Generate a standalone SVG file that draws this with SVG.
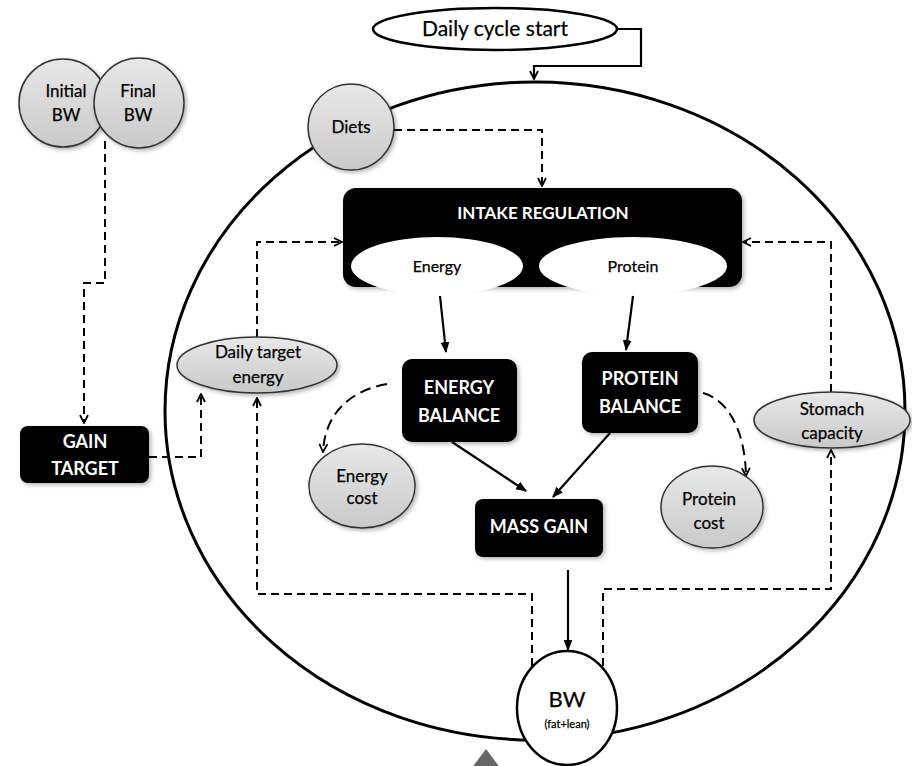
<svg xmlns="http://www.w3.org/2000/svg" width="912" height="766" viewBox="0 0 912 766">
<defs>
<linearGradient id="gray" x1="0" y1="0" x2="0" y2="1">
<stop offset="0" stop-color="#e8e8e8"/>
<stop offset="1" stop-color="#c9c9c9"/>
</linearGradient>
<filter id="sh" x="-20%" y="-20%" width="150%" height="150%">
<feGaussianBlur in="SourceAlpha" stdDeviation="2"/>
<feOffset dx="2" dy="2" result="b"/>
<feComponentTransfer><feFuncA type="linear" slope="0.3"/></feComponentTransfer>
<feMerge><feMergeNode/><feMergeNode in="SourceGraphic"/></feMerge>
</filter>
<marker id="open" viewBox="0 0 10 10" refX="9" refY="5" markerWidth="10" markerHeight="10" markerUnits="userSpaceOnUse" orient="auto">
<path d="M1,1 L9,5 L1,9" fill="none" stroke="#000" stroke-width="1.8"/>
</marker>
<marker id="solid" viewBox="0 0 10 10" refX="9" refY="5" markerWidth="11" markerHeight="11" markerUnits="userSpaceOnUse" orient="auto">
<path d="M0,1 L10,5 L0,9 z" fill="#000"/>
</marker>
<style>
.t{font-family:Lato,"Liberation Sans",sans-serif;fill:#000;text-anchor:middle;stroke:#000;stroke-width:0.25}
.w{font-family:Lato,"Liberation Sans",sans-serif;fill:#fff;font-weight:bold;text-anchor:middle}
.g{fill:url(#gray);stroke:#333;stroke-width:1.5}
.box{fill:#000}
.d{fill:none;stroke:#000;stroke-width:2;stroke-dasharray:8 5}
.dl{fill:none;stroke:#000;stroke-width:2;stroke-dasharray:11 6}
.s{fill:none;stroke:#000;stroke-width:2.2}
</style>
</defs>
<rect width="912" height="766" fill="#fff"/>

<g id="cycle-ellipse">
<ellipse cx="535" cy="411" rx="370" ry="329" fill="none" stroke="#000" stroke-width="3"/>
</g>

<g id="connectors">
<path class="s" d="M618,29 H641 V66 H534 V79" marker-end="url(#open)"/>
<path class="d" d="M394,130 H542 V186" marker-end="url(#open)"/>
<path class="d" d="M105,141 V283 H84 V423" marker-end="url(#open)"/>
<path class="d" d="M149,457 H201 V394" marker-end="url(#open)"/>
<path class="d" d="M257,337 V242 H342" marker-end="url(#open)"/>
<path class="d" d="M831,392 V242 H743" marker-end="url(#open)"/>
<path class="s" d="M440,296 L446,352" marker-end="url(#solid)"/>
<path class="s" d="M633,296 L626,350" marker-end="url(#solid)"/>
<path class="s" d="M452,442 L526,491" marker-end="url(#solid)"/>
<path class="s" d="M610,433 L553,497" marker-end="url(#solid)"/>
<path class="s" d="M568,570 V650" marker-end="url(#solid)"/>
<path class="dl" d="M387,384 C352,390 325,412 323,452" marker-end="url(#open)"/>
<path class="dl" d="M703,393 C728,400 745,430 746,476" marker-end="url(#open)"/>
<path class="d" d="M532,666 V594 H257 V398" marker-end="url(#open)"/>
<path class="d" d="M603,666 V589 H831 V450" marker-end="url(#open)"/>
</g>

<g id="daily-cycle-start">
<ellipse cx="495" cy="29" rx="122" ry="21" fill="#fff" stroke="#000" stroke-width="2.5"/>
<text class="t" x="495" y="36" font-size="21">Daily cycle start</text>
</g>

<g id="initial-bw">
<circle class="g" cx="63" cy="103" r="44" filter="url(#sh)"/>
<text class="t" x="66" y="97" font-size="17">Initial</text>
<text class="t" x="66" y="121" font-size="17">BW</text>
</g>
<g id="final-bw">
<circle class="g" cx="139" cy="103" r="45" filter="url(#sh)"/>
<text class="t" x="138" y="97" font-size="17">Final</text>
<text class="t" x="138" y="121" font-size="17">BW</text>
</g>

<g id="diets">
<circle class="g" cx="351" cy="127" r="43" filter="url(#sh)"/>
<text class="t" x="351" y="133" font-size="17">Diets</text>
</g>

<g id="intake-regulation">
<rect class="box" x="343" y="188" width="399" height="99" rx="13" filter="url(#sh)"/>
<text class="w" x="543" y="219" font-size="17">INTAKE REGULATION</text>
<ellipse cx="437" cy="266" rx="86" ry="29" fill="#fff"/>
<text class="t" x="437" y="272" font-size="16">Energy</text>
<ellipse cx="633" cy="266" rx="94" ry="29" fill="#fff"/>
<text class="t" x="633" y="272" font-size="16">Protein</text>
</g>

<g id="daily-target-energy">
<ellipse class="g" cx="257" cy="365" rx="80" ry="28" filter="url(#sh)"/>
<text class="t" x="258" y="358" font-size="17">Daily target</text>
<text class="t" x="258" y="383" font-size="17">energy</text>
</g>

<g id="stomach-capacity">
<ellipse class="g" cx="832" cy="420" rx="78" ry="28" filter="url(#sh)"/>
<text class="t" x="832" y="415" font-size="17">Stomach</text>
<text class="t" x="832" y="439" font-size="17">capacity</text>
</g>

<g id="gain-target">
<rect class="box" x="20" y="426" width="129" height="57" rx="8" filter="url(#sh)"/>
<text class="w" x="85" y="448" font-size="18">GAIN</text>
<text class="w" x="85" y="475" font-size="18">TARGET</text>
</g>

<g id="energy-balance">
<rect class="box" x="402" y="359" width="115" height="83" rx="10" filter="url(#sh)"/>
<text class="w" x="459" y="394" font-size="18">ENERGY</text>
<text class="w" x="459" y="422" font-size="18">BALANCE</text>
</g>

<g id="protein-balance">
<rect class="box" x="582" y="352" width="116" height="81" rx="10" filter="url(#sh)"/>
<text class="w" x="640" y="385" font-size="18">PROTEIN</text>
<text class="w" x="640" y="413" font-size="18">BALANCE</text>
</g>

<g id="energy-cost">
<ellipse class="g" cx="362" cy="486" rx="53" ry="42" filter="url(#sh)"/>
<text class="t" x="362" y="482" font-size="17">Energy</text>
<text class="t" x="362" y="504" font-size="17">cost</text>
</g>

<g id="protein-cost">
<ellipse class="g" cx="712" cy="507" rx="51" ry="41" filter="url(#sh)"/>
<text class="t" x="709" y="505" font-size="17">Protein</text>
<text class="t" x="709" y="529" font-size="17">cost</text>
</g>

<g id="mass-gain">
<rect class="box" x="475" y="499" width="128" height="58" rx="8" filter="url(#sh)"/>
<text class="w" x="539" y="533" font-size="18">MASS GAIN</text>
</g>

<g id="bw">
<ellipse cx="567" cy="708" rx="50" ry="57" fill="#fff" stroke="#000" stroke-width="2.5"/>
<text class="t" x="567" y="707" font-size="22">BW</text>
<text class="t" x="567" y="728" font-size="11" stroke-width="0">(fat+lean)</text>
</g>

<polygon points="486,749 465,777 507,777" fill="#666"/>
</svg>
